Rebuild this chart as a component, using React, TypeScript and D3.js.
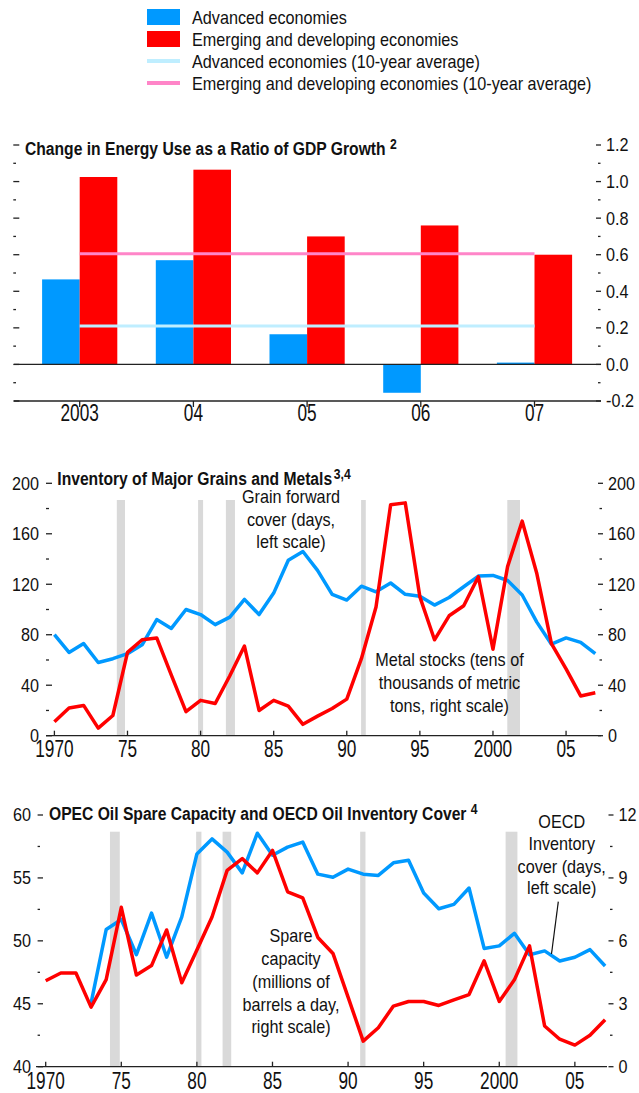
import React from 'react';
import * as d3 from 'd3';

// legend
const legendLabels = [
  'Advanced economies',
  'Emerging and developing economies',
  'Advanced economies (10-year average)',
  'Emerging and developing economies (10-year average)',
];

// panel 1: change in energy use / GDP growth
const barYears = ['2003', '04', '05', '06', '07'];
const advanced = [0.465, 0.57, 0.165, -0.155, 0.01];
const emerging = [1.025, 1.065, 0.7, 0.76, 0.6];
const advancedAvg = 0.21;
const emergingAvg = 0.605;
const p1Ticks = [-0.2, 0, 0.2, 0.4, 0.6, 0.8, 1.0, 1.2];

// panel 2: grains and metals, 1970-2007
const grainCover = [80, 66, 73, 58, 61, 65, 72, 92, 85, 100, 96, 88, 94, 108, 96, 113, 139, 146, 131, 112,
  107.5, 118.5, 114, 121, 112, 110.5, 103.5, 109.5, 118, 126.5, 127, 123, 111.5, 90, 72.5, 77.5, 74, 65];
const metalStocks = [11, 22, 24, 6, 16, 66, 76, 77.5, 48, 19, 28, 25.5, 47.5, 71, 20, 28, 23.5, 9, 15.5, 21.5,
  29, 61, 102, 183, 184.5, 110, 76, 95, 103, 126, 68.5, 134, 170, 128.5, 73, 53, 31.5, 34];
const p2Ticks = [0, 40, 80, 120, 160, 200];
const p2Bands = [[1974.27, 1974.83], [1979.83, 1980.17], [1981.73, 1982.35], [1990.98, 1991.3], [2000.98, 2001.85]];

// panel 3: OPEC spare capacity (1970-2007) and OECD inventory cover (1973-2007)
const oecdCover = [45.05, 50.9, 51.7, 48.9, 52.2, 48.7, 51.9, 56.9, 58.1, 57.05, 55.4, 58.55, 56.8, 57.45, 57.85,
  55.3, 55.05, 55.7, 55.3, 55.2, 56.2, 56.4, 53.8, 52.55, 52.9, 54.2, 49.4, 49.6, 50.6, 48.9, 49.2, 48.4, 48.7, 49.3, 48.0];
const spareCapacity = [4.1, 4.47, 4.47, 2.84, 4.15, 7.6, 4.37, 4.82, 6.52, 4.0, 5.56, 7.14, 9.36, 9.92, 9.24, 10.31,
  8.34, 8.05, 6.16, 5.4, 3.32, 1.22, 1.86, 2.89, 3.11, 3.11, 2.92, 3.19, 3.44, 5.05, 3.11, 4.14, 5.76, 1.94, 1.31, 1.03, 1.5, 2.24];
const p3LeftTicks = [40, 45, 50, 55, 60];
const p3RightTicks = [0, 3, 6, 9, 12];
const p3Bands = [[1974.25, 1974.9], [1979.95, 1980.3], [1981.7, 1982.27], [1990.8, 1991.15], [2000.42, 2001.2]];

const yearTicks = [1970, 1975, 1980, 1985, 1990, 1995, 2000, 2005];
const yearLabels = ['1970', '75', '80', '85', '90', '95', '2000', '05'];

const BLUE = '#0099ff';
const RED = '#ff0000';
const LIGHTBLUE = '#bfeeff';
const PINK = '#ff85c8';
const BAND = '#d9d9d9';
const FONT = '"Liberation Sans", Arial, sans-serif';

// condensed text: the source font is narrower than Arial
const T = ({ x, y, s = 0.9, size = 18, bold = false, anchor = 'start', dy = undefined, children }: any) => (
  <text
    transform={`translate(${x},${y}) scale(${s},1)`}
    fontSize={size}
    fontFamily={FONT}
    fontWeight={bold ? 'bold' : 'normal'}
    textAnchor={anchor}
    dy={dy}
    fill="#111"
  >
    {children}
  </text>
);

const App = () => {
  // panel 1 scales
  const x1 = d3.scaleLinear().domain([0, 4]).range([79.7, 534.5]);
  const y1 = d3.scaleLinear().domain([-0.2, 1.2]).range([401, 145]);
  const barW = 37.6;
  const minor1 = d3.range(-0.1, 1.2, 0.2);

  // panel 2 scales
  const x2 = d3.scaleLinear().domain([1970, 2007]).range([54.4, 595.3]);
  const y2 = d3.scaleLinear().domain([0, 200]).range([735.7, 483.3]);
  const line2 = d3.line<number>().x((d, i) => x2(1970 + i)).y(d => y2(d));

  // panel 3 scales
  const x3 = d3.scaleLinear().domain([1970, 2007]).range([45.7, 605.1]);
  const y3L = d3.scaleLinear().domain([40, 60]).range([1066.7, 815]);
  const y3R = d3.scaleLinear().domain([0, 12]).range([1066.7, 815]);
  const oecdLine = d3.line<number>().x((d, i) => x3(1973 + i)).y(d => y3L(d));
  const spareLine = d3.line<number>().x((d, i) => x3(1970 + i)).y(d => y3R(d));

  const tickStroke = { stroke: '#222', strokeWidth: 1.3 };

  return (
    <svg width={639} height={1093} style={{ position: 'absolute', left: 0, top: 0, display: 'block' }}>
      <rect width={639} height={1093} fill="#fff" />

      {/* legend */}
      {legendLabels.map((lab, i) => {
        const base = 24 + 22 * i;
        const cy = base - 7;
        return (
          <g key={lab}>
            {i < 2 ? (
              <rect x={147} y={cy - 8} width={33} height={16} fill={i === 0 ? BLUE : RED} />
            ) : (
              <line x1={147} x2={180} y1={cy} y2={cy} stroke={i === 2 ? LIGHTBLUE : PINK} strokeWidth={4} />
            )}
            <T x={192} y={base}>{lab}</T>
          </g>
        );
      })}

      {/* ---------- panel 1 ---------- */}
      <g>
        {advanced.map((v, i) => (
          <rect key={'a' + i} x={x1(i) - barW} width={barW} y={Math.min(y1(v), y1(0))}
            height={Math.abs(y1(v) - y1(0))} fill={BLUE} />
        ))}
        {emerging.map((v, i) => (
          <rect key={'e' + i} x={x1(i)} width={barW} y={Math.min(y1(v), y1(0))}
            height={Math.abs(y1(v) - y1(0))} fill={RED} />
        ))}
        <line x1={x1(0)} x2={x1(4)} y1={y1(emergingAvg)} y2={y1(emergingAvg)} stroke={PINK} strokeWidth={3} />
        <line x1={x1(0)} x2={x1(4)} y1={y1(advancedAvg)} y2={y1(advancedAvg)} stroke={LIGHTBLUE} strokeWidth={3} />
        <line x1={14} x2={601} y1={y1(0)} y2={y1(0)} {...tickStroke} />
        <line x1={14} x2={601} y1={y1(-0.2)} y2={y1(-0.2)} {...tickStroke} />
        {p1Ticks.map(t => (
          <g key={t}>
            <line x1={13.3} x2={19.3} y1={y1(t)} y2={y1(t)} {...tickStroke} />
            <line x1={596} x2={601} y1={y1(t)} y2={y1(t)} {...tickStroke} />
            <T x={606} y={y1(t)} dy="0.36em">{t.toFixed(1)}</T>
          </g>
        ))}
        {minor1.map(t => (
          <g key={'m' + t}>
            <line x1={13.3} x2={16} y1={y1(t)} y2={y1(t)} {...tickStroke} />
            <line x1={598} x2={600.5} y1={y1(t)} y2={y1(t)} {...tickStroke} />
          </g>
        ))}
        {barYears.map((lab, i) => (
          <g key={lab}>
            <line x1={x1(i)} x2={x1(i)} y1={y1(-0.2)} y2={y1(-0.2) + 6} {...tickStroke} />
            <T x={x1(i)} y={421} size={23} s={0.75} anchor="middle">{lab}</T>
          </g>
        ))}
        <text transform="translate(25,155) scale(0.87,1)" fontFamily={FONT} fontSize={18} fontWeight="bold" fill="#111">
          Change in Energy Use as a Ratio of GDP Growth
          <tspan dx={5} dy={-6} fontSize={14}>2</tspan>
        </text>
      </g>

      {/* ---------- panel 2 ---------- */}
      <g>
        {p2Bands.map(([a, b]) => (
          <rect key={a} x={x2(a)} width={x2(b) - x2(a)} y={500} height={y2(0) - 500} fill={BAND} />
        ))}
        <line x1={46} x2={601} y1={y2(0)} y2={y2(0)} {...tickStroke} />
        {p2Ticks.map(t => (
          <g key={t}>
            <line x1={46} x2={52} y1={y2(t)} y2={y2(t)} {...tickStroke} />
            <T x={39} y={y2(t)} dy="0.36em" anchor="end">{t}</T>
            <line x1={598} x2={603} y1={y2(t)} y2={y2(t)} {...tickStroke} />
            <T x={608} y={y2(t)} dy="0.36em">{t}</T>
          </g>
        ))}
        {p2Ticks.slice(0, -1).map(t => (
          <g key={'m' + t}>
            <line x1={46} x2={49} y1={y2(t + 20)} y2={y2(t + 20)} {...tickStroke} />
            <line x1={599.5} x2={602} y1={y2(t + 20)} y2={y2(t + 20)} {...tickStroke} />
          </g>
        ))}
        {yearTicks.map((yr, i) => (
          <g key={yr}>
            <line x1={x2(yr)} x2={x2(yr)} y1={y2(0) - 5} y2={y2(0)} {...tickStroke} />
            <T x={x2(yr)} y={757} size={23} s={0.75} anchor="middle">{yearLabels[i]}</T>
          </g>
        ))}
        <path d={line2(grainCover) || ''} fill="none" stroke={BLUE} strokeWidth={3.5} strokeLinejoin="round" />
        <path d={line2(metalStocks) || ''} fill="none" stroke={RED} strokeWidth={3.5} strokeLinejoin="round" />
        <text transform="translate(57.3,485) scale(0.87,1)" fontFamily={FONT} fontSize={18} fontWeight="bold" fill="#111">
          Inventory of Major Grains and Metals
          <tspan dx={2} dy={-6} fontSize={14}>3,4</tspan>
        </text>
        <T x={291} y={503} anchor="middle">Grain forward</T>
        <T x={291} y={526} anchor="middle">cover (days,</T>
        <T x={291} y={548} anchor="middle">left scale)</T>
        <T x={449.5} y={666} anchor="middle">Metal stocks (tens of</T>
        <T x={449.5} y={689} anchor="middle">thousands of metric</T>
        <T x={449.5} y={712} anchor="middle">tons, right scale)</T>
      </g>

      {/* ---------- panel 3 ---------- */}
      <g>
        {p3Bands.map(([a, b]) => (
          <rect key={a} x={x3(a)} width={x3(b) - x3(a)} y={831.7} height={y3L(40) - 831.7} fill={BAND} />
        ))}
        <line x1={36} x2={607} y1={y3L(40)} y2={y3L(40)} {...tickStroke} />
        {p3LeftTicks.map(t => (
          <g key={t}>
            <line x1={37.6} x2={43} y1={y3L(t)} y2={y3L(t)} {...tickStroke} />
            <T x={31} y={y3L(t)} dy="0.36em" anchor="end">{t}</T>
          </g>
        ))}
        {p3LeftTicks.slice(0, -1).map(t => (
          <line key={'m' + t} x1={37.6} x2={40} y1={y3L(t + 2.5)} y2={y3L(t + 2.5)} {...tickStroke} />
        ))}
        {p3RightTicks.map(t => (
          <g key={t}>
            <line x1={608.5} x2={613.5} y1={y3R(t)} y2={y3R(t)} {...tickStroke} />
            <T x={618.5} y={y3R(t)} dy="0.36em">{t}</T>
          </g>
        ))}
        {p3RightTicks.slice(0, -1).map(t => (
          <line key={'m' + t} x1={610} x2={612.5} y1={y3R(t + 1.5)} y2={y3R(t + 1.5)} {...tickStroke} />
        ))}
        {yearTicks.map((yr, i) => (
          <g key={yr}>
            <line x1={x3(yr)} x2={x3(yr)} y1={y3L(40) - 5} y2={y3L(40)} {...tickStroke} />
            <T x={x3(yr)} y={1088.5} size={23} s={0.75} anchor="middle">{yearLabels[i]}</T>
          </g>
        ))}
        <path d={oecdLine(oecdCover) || ''} fill="none" stroke={BLUE} strokeWidth={3.5} strokeLinejoin="round" />
        <path d={spareLine(spareCapacity) || ''} fill="none" stroke={RED} strokeWidth={3.5} strokeLinejoin="round" />
        <text transform="translate(49,820) scale(0.87,1)" fontFamily={FONT} fontSize={18} fontWeight="bold" fill="#111">
          OPEC Oil Spare Capacity and OECD Oil Inventory Cover
          <tspan dx={5} dy={-6} fontSize={14}>4</tspan>
        </text>
        <T x={291} y={942} anchor="middle">Spare</T>
        <T x={291} y={964.5} anchor="middle">capacity</T>
        <T x={291} y={987.5} anchor="middle">(millions of</T>
        <T x={291} y={1010.5} anchor="middle">barrels a day,</T>
        <T x={291} y={1032.5} anchor="middle">right scale)</T>
        <T x={561.7} y={828} anchor="middle">OECD</T>
        <T x={561.7} y={850} anchor="middle">Inventory</T>
        <T x={561.7} y={872.5} anchor="middle">cover (days,</T>
        <T x={561.7} y={893.5} anchor="middle">left scale)</T>
        <line x1={558.3} y1={901.7} x2={551.5} y2={954} stroke="#111" strokeWidth={1.2} />
      </g>
    </svg>
  );
};

export default App;
